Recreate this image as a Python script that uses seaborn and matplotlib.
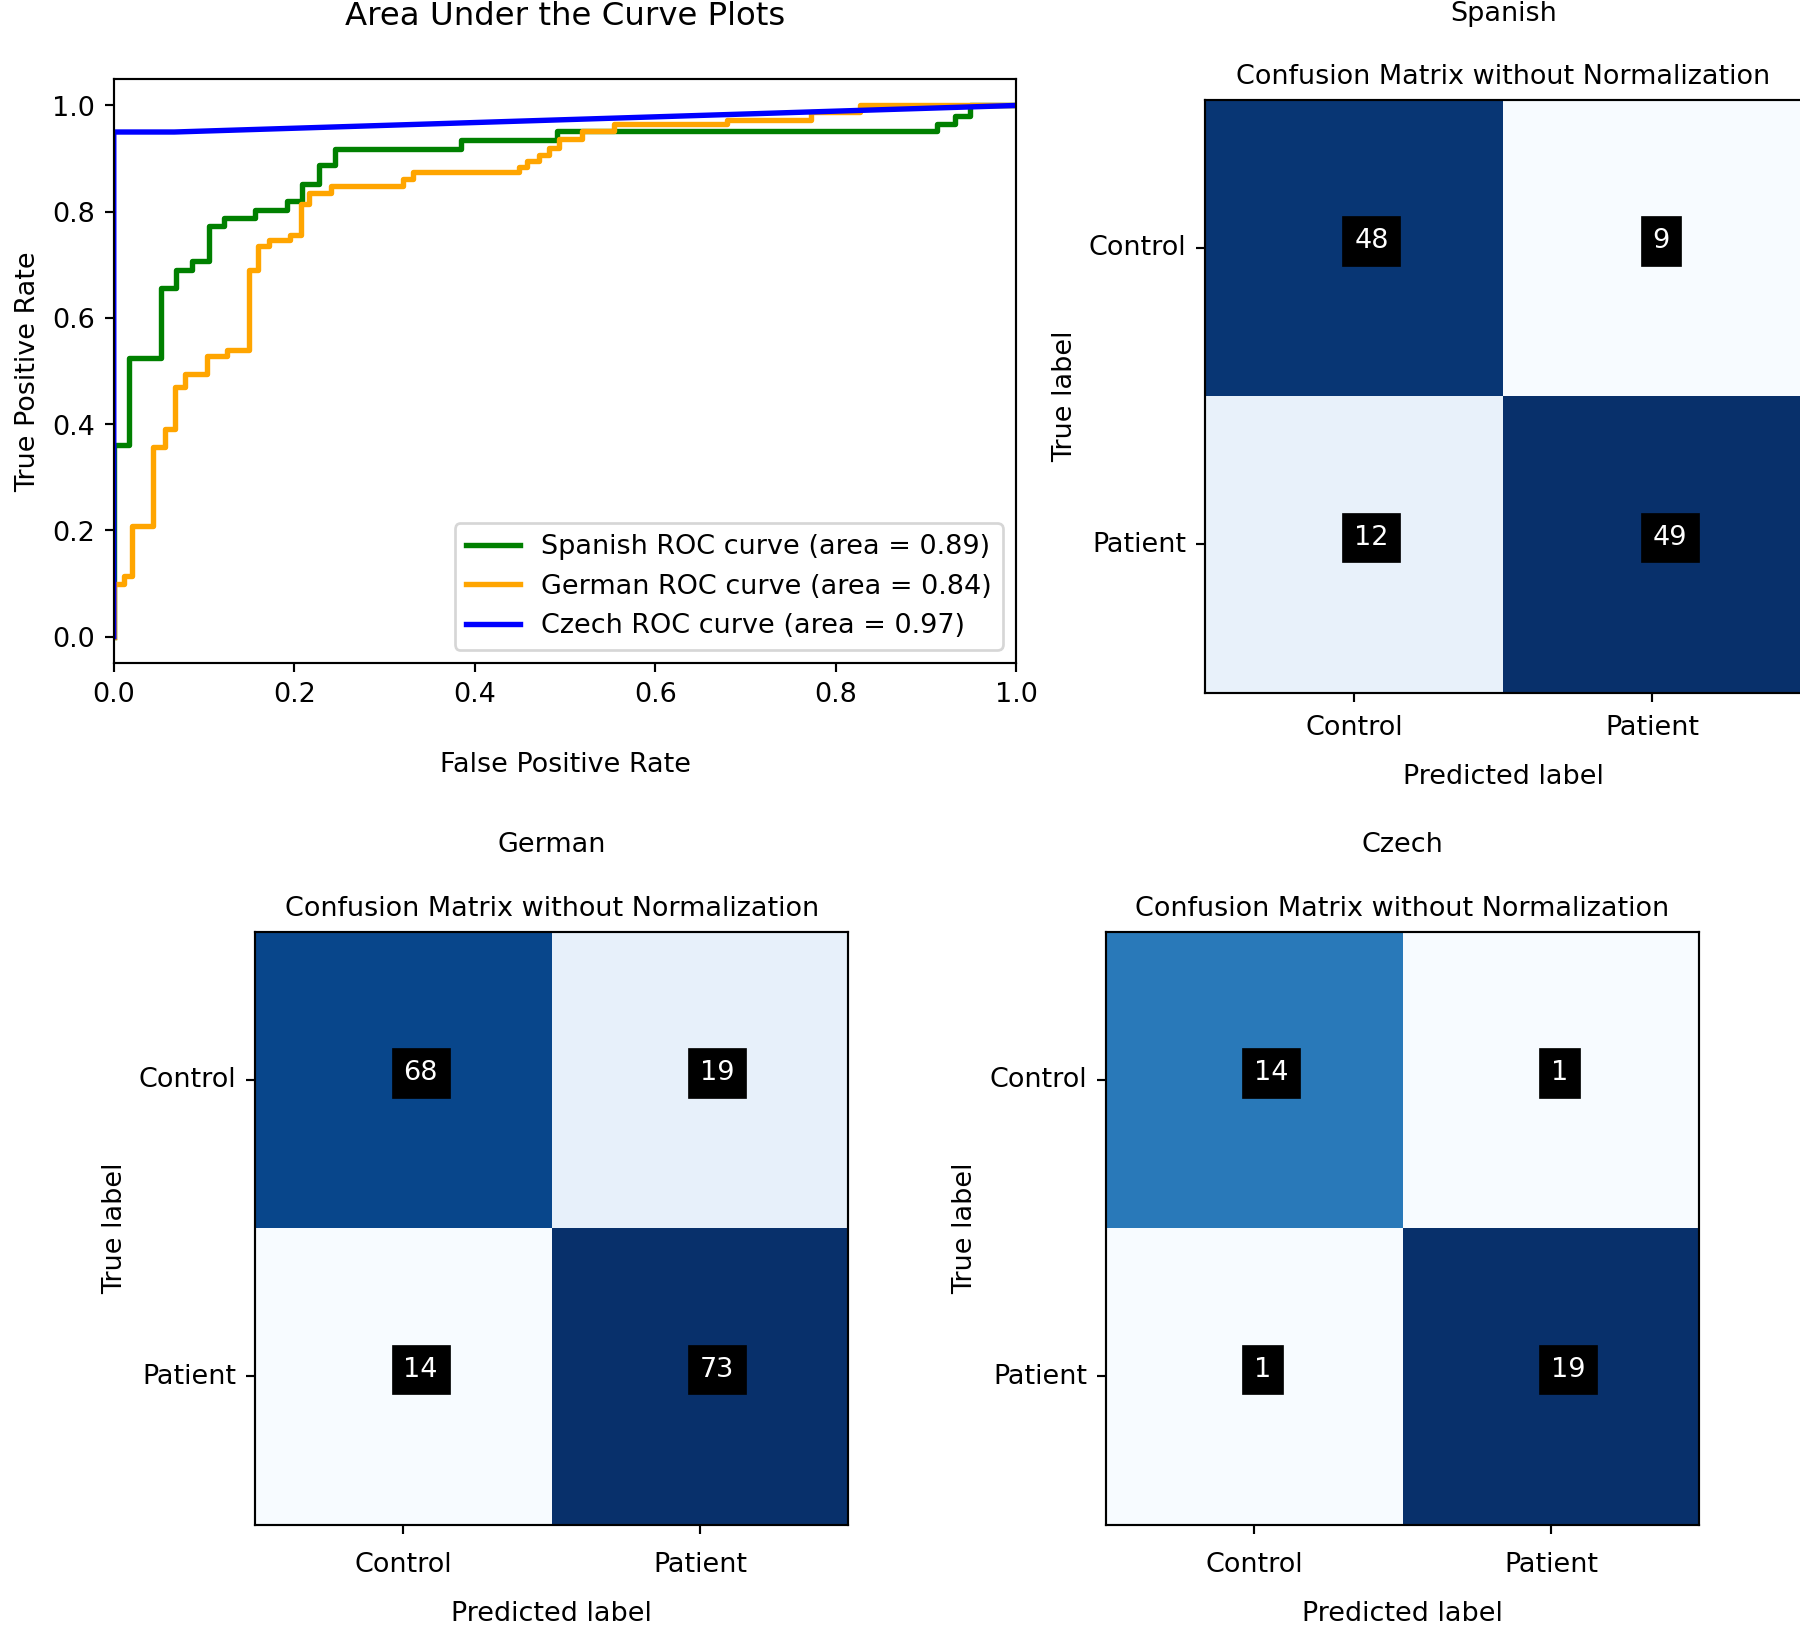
import numpy as np
import matplotlib
matplotlib.use('Agg')
import matplotlib.pyplot as plt
import seaborn as sns

plt.rcParams['font.family'] = ['DejaVu Sans']

DPI = 194

classes = ['Control', 'Patient']
languages = ['Spanish', 'German', 'Czech']
auc_values = [0.89, 0.84, 0.97]
roc_colors = ['green', 'orange', 'blue']

# confusion matrices, rows = true label, cols = predicted label
cm_spanish = [[48, 9], [12, 49]]
cm_german = [[68, 19], [14, 73]]
cm_czech = [[14, 1], [1, 19]]

# ROC vertices (fpr, tpr)
spanish_fpr = [0.0, 0.0, 0.017, 0.017, 0.052, 0.052, 0.069, 0.069, 0.087, 0.087,
               0.105, 0.105, 0.122, 0.122, 0.157, 0.157, 0.192, 0.192, 0.209, 0.209,
               0.227, 0.227, 0.245, 0.245, 0.385, 0.385, 0.491, 0.491, 0.912, 0.912,
               0.932, 0.932, 0.949, 0.949, 1.0]
spanish_tpr = [0.0, 0.36, 0.36, 0.524, 0.524, 0.657, 0.657, 0.691, 0.691, 0.707,
               0.707, 0.773, 0.773, 0.788, 0.788, 0.804, 0.804, 0.820, 0.820, 0.853,
               0.853, 0.887, 0.887, 0.918, 0.918, 0.935, 0.935, 0.951, 0.951, 0.965,
               0.965, 0.980, 0.980, 1.0, 1.0]

german_fpr = [0.0, 0.0, 0.011, 0.011, 0.020, 0.020, 0.044, 0.044, 0.057, 0.057,
              0.068, 0.068, 0.079, 0.079, 0.103, 0.103, 0.126, 0.126, 0.150, 0.150,
              0.160, 0.160, 0.172, 0.172, 0.195, 0.195, 0.207, 0.207, 0.216, 0.216,
              0.241, 0.241, 0.321, 0.321, 0.331, 0.331, 0.449, 0.449, 0.458, 0.458,
              0.471, 0.471, 0.482, 0.482, 0.493, 0.493, 0.519, 0.519, 0.554, 0.554,
              0.680, 0.680, 0.773, 0.773, 0.827, 0.827, 1.0]
german_tpr = [0.0, 0.10, 0.10, 0.115, 0.115, 0.208, 0.208, 0.357, 0.357, 0.391,
              0.391, 0.470, 0.470, 0.494, 0.494, 0.529, 0.529, 0.540, 0.540, 0.691,
              0.691, 0.736, 0.736, 0.747, 0.747, 0.757, 0.757, 0.815, 0.815, 0.836,
              0.836, 0.849, 0.849, 0.861, 0.861, 0.874, 0.874, 0.885, 0.885, 0.895,
              0.895, 0.907, 0.907, 0.920, 0.920, 0.937, 0.937, 0.952, 0.952, 0.965,
              0.965, 0.973, 0.973, 0.988, 0.988, 1.0, 1.0]

czech_fpr = [0.0, 0.0, 0.067, 1.0]
czech_tpr = [0.0, 0.95, 0.95, 1.0]

roc_fpr = [spanish_fpr, german_fpr, czech_fpr]
roc_tpr = [spanish_tpr, german_tpr, czech_tpr]


def plot_cm(ax, cm, xpad=3.5):
    """Heatmap of a 2x2 confusion matrix, styled like plt.imshow output."""
    # counts sit just right of / above the cell centre, as in the original
    sns.heatmap(np.array(cm), annot=True, fmt='d', cmap='Blues', cbar=False,
                xticklabels=classes, yticklabels=classes, ax=ax,
                annot_kws=dict(color='white', fontsize=10, ha='left', va='baseline',
                               bbox=dict(facecolor='black', edgecolor='black')))
    for sp in ax.spines.values():
        sp.set_visible(True)
        sp.set_linewidth(0.8)
        sp.set_color('black')
    ax.set_yticklabels(classes, rotation=0, va='center')
    ax.set_xticklabels(classes, rotation=0)
    ax.tick_params(axis='both', length=3.5, width=0.8, color='black')
    ax.tick_params(axis='x', pad=xpad)
    ax.set_title('Confusion Matrix without Normalization', fontsize=10)
    ax.set_xlabel('Predicted label', labelpad=8.5)
    ax.set_ylabel('True label')


fig = plt.figure(figsize=(9.28, 8.44), dpi=DPI)

# ROC curves
ax_roc = fig.add_axes([0.0632, 0.5947, 0.5013, 0.3569])
for lang, fpr, tpr, auc, col in zip(languages, roc_fpr, roc_tpr, auc_values, roc_colors):
    sns.lineplot(x=fpr, y=tpr, sort=False, estimator=None, color=col, lw=2,
                 ax=ax_roc, label=f'{lang} ROC curve (area = {auc:.2f})')
ax_roc.set_xlim(0.0, 1.0)
ax_roc.set_ylim(-0.05, 1.05)
ax_roc.set_xticks(np.arange(0, 1.01, 0.2))
ax_roc.set_yticks(np.arange(0, 1.01, 0.2))
ax_roc.set_xlabel('False Positive Rate', labelpad=16)
ax_roc.set_ylabel('True Positive Rate')
ax_roc.legend(loc='lower right', fontsize=10)
fig.text(0.3139, 0.990, 'Area Under the Curve Plots', ha='center', va='center', fontsize=12)

# confusion matrices
ax_es = fig.add_axes([0.6694, 0.5767, 0.3312, 0.3623])
ax_de = fig.add_axes([0.1416, 0.0687, 0.3297, 0.3619])
ax_cz = fig.add_axes([0.6142, 0.0687, 0.3297, 0.3619])

plot_cm(ax_es, cm_spanish, xpad=4.5)
plot_cm(ax_de, cm_german, xpad=6.5)
plot_cm(ax_cz, cm_czech, xpad=6.5)

for ax, lang, y in [(ax_es, 'Spanish', 0.9916), (ax_de, 'German', 0.4838), (ax_cz, 'Czech', 0.4838)]:
    pos = ax.get_position()
    fig.text(pos.x0 + pos.width / 2, y, lang, ha='center', va='center', fontsize=10)

fig.savefig('out.png', dpi=DPI, facecolor='white')
